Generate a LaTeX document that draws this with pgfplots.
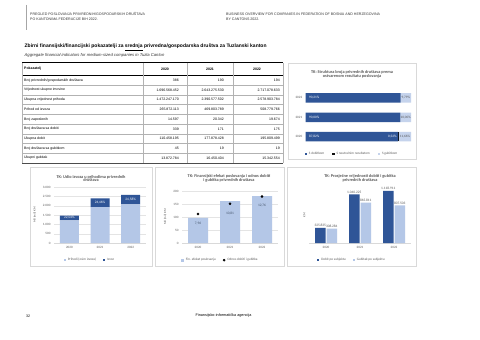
\documentclass[border=0pt]{standalone}
\usepackage{fontspec}
\setmainfont{Liberation Sans}
\newfontfamily\calfont{Carlito}
\usepackage{pgfplots}
\pgfplotsset{compat=1.18}
\definecolor{dkb}{HTML}{2F5597}
\definecolor{ltb}{HTML}{B4C7E7}
\definecolor{ltc}{HTML}{C5D3EC}
\definecolor{neu}{HTML}{101010}
\definecolor{txt}{HTML}{595959}
\definecolor{lbl}{HTML}{44546A}
\definecolor{brd}{HTML}{D9D9D9}
\definecolor{grd}{HTML}{E4E4E4}
\newcommand{\fs}[1]{\fontsize{#1}{#1}\selectfont}
\tikzset{
  dlw/.style={inner sep=0, font=\calfont\fs{3.4}, text=white},
  dlg/.style={inner sep=0, font=\calfont\fs{3.4}, text=txt},
  wl/.style={inner sep=0, font=\calfont\fs{3.5}, text=white},
  lab/.style={anchor=west, inner sep=0, font=\fs{3.5}},
  num/.style={anchor=east, inner sep=0, font=\fs{3.5}},
  hd/.style={inner sep=0, font=\bfseries\fs{3.5}},
  ctitle/.style={align=center, inner sep=0, font=\calfont\bfseries\fs{4.3}, text=txt},
}
\pgfplotsset{
  sq/.style={legend image code/.code={\fill[##1] (0bp,-1.1bp) rectangle (2.2bp,1.1bp);}},
  cbase/.style={
    scale only axis, anchor=south west,
    xmin=-0.5, xmax=2.5, xtick={0,1,2}, xticklabels={2020,2021,2022},
    axis x line*=bottom, axis y line*=left,
    y axis line style={draw=none}, x axis line style={draw=brd, line width=0.4bp},
    major tick length=0pt,
    ticklabel style={font=\calfont\fs{3.3}, text=txt},
    ylabel style={font=\calfont\fs{3.1}, text=txt},
    legend style={draw=none, fill=none, font=\calfont\fs{3.4}, text=txt, legend columns=-1, inner sep=0pt,
      /tikz/every even column/.append style={column sep=5bp}},
    legend cell align=left,
    clip=false,
  },
}
\begin{document}
\begin{tikzpicture}[x=1bp,y=1bp]
\useasboundingbox (0,0) rectangle (480,339);
\fill[white] (0,0) rectangle (480,339);
% header
\draw[gray!70, line width=0.4bp] (26,339-5) -- (26,339-30);
\node[anchor=west, inner sep=0, font=\fs{3.6}, text=black!80] at (30,339-14) {PREGLED POSLOVANJA PRIVREDNIH/GOSPODARSKIH DRUŠTAVA};
\node[anchor=west, inner sep=0, font=\fs{3.6}, text=black!80] at (30,339-19.5) {PO KANTONIMA FEDERACIJE BIH 2022.};
\node[anchor=west, inner sep=0, font=\fs{3.6}, text=black!80] at (226,339-14) {BUSINESS OVERVIEW FOR COMPANIES IN FEDERATION OF BOSNIA AND HERZEGOVINA};
\node[anchor=west, inner sep=0, font=\fs{3.6}, text=black!80] at (226,339-19.5) {BY CANTONS 2022.};
% title
\node[anchor=west, inner sep=0, font=\bfseries\fs{5.0}] at (24.5,339-47) {Zbirni finansijski/financijski pokazatelji za \underline{srednja} privredna/gospodarska društva za Tuzlanski kanton};
\node[anchor=west, inner sep=0, font=\itshape\fs{4.2}, text=black!80] at (24.5,339-55) {Aggregate financial indicators for medium-sized companies in Tuzla Canton};
% table
\draw[black, line width=0.9bp] (22,339-62.5) -- (283,339-62.5);
\draw[black, line width=0.5bp] (22,339-75.5) -- (283,339-75.5);
\foreach \yy in {85.2,94.9,104.6,114.3,124,133.7,143.4,153.1}
  \draw[gray!60, line width=0.3bp] (22,339-\yy) -- (283,339-\yy);
\draw[black!70, line width=0.4bp] (22,339-162.8) -- (283,339-162.8);
\foreach \xx in {22,143,187.5,233,283}
  \draw[gray!60, line width=0.3bp] (\xx,339-62.5) -- (\xx,339-162.8);
\node[lab, font=\bfseries\fs{3.5}] at (24,339-69) {Pokazatelj};
\node[hd] at (165,339-69) {2020};
\node[hd] at (210,339-69) {2021};
\node[hd] at (257,339-69) {2022};
\node[lab] at (24,339-80.35) {Broj privrednih/gospodarskih društava};
\node[lab] at (24,339-90.05) {Vrijednost ukupne imovine};
\node[lab] at (24,339-99.75) {Ukupna vrijednost prihoda};
\node[lab] at (24,339-109.45) {Prihod od izvoza};
\node[lab] at (24,339-119.15) {Broj zaposlenih};
\node[lab] at (24,339-128.85) {Broj društava sa dobiti};
\node[lab] at (24,339-138.55) {Ukupna dobit};
\node[lab] at (24,339-148.25) {Broj društava sa gubitkom};
\node[lab] at (24,339-157.95) {Ukupni gubitak};
% values
\node[num] at (179,339-80.35) {386};
\node[num] at (224,339-80.35) {190};
\node[num] at (280,339-80.35) {194};
\node[num] at (179,339-90.05) {1.696.568.452};
\node[num] at (224,339-90.05) {2.643.275.530};
\node[num] at (280,339-90.05) {2.717.078.633};
\node[num] at (179,339-99.75) {1.472.247.170};
\node[num] at (224,339-99.75) {2.390.577.502};
\node[num] at (280,339-99.75) {2.578.903.784};
\node[num] at (179,339-109.45) {265.872.113};
\node[num] at (224,339-109.45) {469.803.789};
\node[num] at (280,339-109.45) {508.779.766};
\node[num] at (179,339-119.15) {14.597};
\node[num] at (224,339-119.15) {20.342};
\node[num] at (280,339-119.15) {19.674};
\node[num] at (179,339-128.85) {339};
\node[num] at (224,339-128.85) {171};
\node[num] at (280,339-128.85) {175};
\node[num] at (179,339-138.55) {110.458.195};
\node[num] at (224,339-138.55) {177.878.428};
\node[num] at (280,339-138.55) {195.809.499};
\node[num] at (179,339-148.25) {45};
\node[num] at (224,339-148.25) {19};
\node[num] at (280,339-148.25) {19};
\node[num] at (179,339-157.95) {13.872.784};
\node[num] at (224,339-157.95) {16.450.404};
\node[num] at (280,339-157.95) {15.342.554};
% chart boxes
\draw[brd, line width=0.4bp] (288,339-63) rectangle (416,339-159);
\draw[brd, line width=0.4bp] (30,339-167) rectangle (152,339-266);
\draw[brd, line width=0.4bp] (155,339-167) rectangle (284,339-266);
\draw[brd, line width=0.4bp] (287,339-167) rectangle (416,339-266);
% chart titles
\node[ctitle] at (352,339-74.5) {TK: Struktura broja privrednih društava prema\\[-0.6bp]ostvarenom rezultatu poslovanja};
\node[ctitle] at (91,339-178.5) {TK: Udio izvoza u prihodima privrednih\\[-0.6bp]društava};
\node[ctitle] at (229,339-178.5) {TK: Finansijski efekat poslovanja i odnos dobiti\\[-0.6bp]i gubitka privrednih društava};
\node[ctitle] at (360,339-178.5) {TK: Prosječne vrijednosti dobiti i gubitka\\[-0.6bp]privrednih društava};
% top-right chart
\begin{axis}[scale only axis, anchor=south west, at={(305.7bp,190.7bp)}, width=105.3bp, height=62bp,
  xbar stacked, bar width=9.5bp, xmin=0, xmax=100, ymin=-0.6, ymax=2.6,
  ytick={0,1,2}, yticklabels={2020,2021,2022}, xtick=\empty,
  axis line style={draw=none}, major tick length=0pt,
  ticklabel style={font=\calfont\fs{3.3}, text=txt},
  legend style={draw=none, fill=none, font=\calfont\fs{3.4}, text=txt, legend columns=-1, inner sep=0pt,
      at={(0.44,-0.095)}, anchor=center, /tikz/every even column/.append style={column sep=6bp}},
  clip=false]
\addplot[fill=dkb, draw=none, sq] coordinates {(87.82,0) (90.00,1) (90.21,2)};
\addlegendentry{S dobitkom}
\addplot[fill=neu, draw=none, sq] coordinates {(0.52,0) (0,1) (0,2)};
\addlegendentry{S neutralnim rezultatom}
\addplot[fill=ltc, draw=none, sq] coordinates {(11.66,0) (10.00,1) (9.79,2)};
\addlegendentry{S gubitkom}
\coordinate (t22a) at (axis cs:3,2);
\coordinate (t21a) at (axis cs:3,1);
\coordinate (t20a) at (axis cs:3,0);
\coordinate (t20b) at (axis cs:86.5,0);
\coordinate (t22c) at (axis cs:95.1,2);
\coordinate (t21c) at (axis cs:95.0,1);
\coordinate (t20c) at (axis cs:94.2,0);
\end{axis}
\node[dlw, anchor=west] at (t22a) {90,21\%};
\node[dlw, anchor=west] at (t21a) {90,00\%};
\node[dlw, anchor=west] at (t20a) {87,82\%};
\node[dlw, anchor=east] at (t20b) {0,52\%};
\node[dlg] at (t22c) {9,79\%};
\node[dlg] at (t21c) {10,00\%};
\node[dlg] at (t20c) {11,66\%};
% chart 1
\begin{axis}[cbase, at={(54bp,96bp)}, width=92bp, height=56bp,
  ymin=0, ymax=3000, ytick={0,500,1000,1500,2000,2500,3000},
  yticklabels={0,500,1.000,1.500,2.000,2.500,3.000},
  ymajorgrids, grid style={grd, line width=0.3bp},
  ybar stacked, bar width=19bp,
  ylabel={Mil (mil) KM},
  legend style={at={(0.39,-0.30)}, anchor=center}]
\addplot[fill=ltb, draw=none, sq] coordinates {(0,1206.375) (1,1920.774) (2,2070.124)};
\addlegendentry{Prihodi (osim izvoza)}
\addplot[fill=dkb, draw=none, sq] coordinates {(0,265.872) (1,469.804) (2,508.780)};
\addlegendentry{Izvoz}
\coordinate (u0) at (axis cs:0,1339);
\coordinate (u1) at (axis cs:1,2155);
\coordinate (u2) at (axis cs:2,2324);
\end{axis}
\node[wl] at (u0) {22,04\%};
\node[wl] at (u1) {24,46\%};
\node[wl] at (u2) {24,58\%};
% chart 2
\begin{axis}[cbase, at={(182bp,96bp)}, width=96bp, height=52bp,
  ymin=0, ymax=200, ytick={0,50,100,150,200}, yticklabels={0,50,100,150,200},
  ymajorgrids, grid style={grd, line width=0.3bp},
  ybar, bar width=20bp, ylabel={Mil (mil) KM}]
\addplot[fill=ltb, draw=none] coordinates {(0,96.585) (1,161.428) (2,180.467)};
\end{axis}
\begin{axis}[scale only axis, anchor=south west, at={(182bp,96bp)}, width=96bp, height=52bp,
  xmin=-0.5, xmax=2.5, ymin=0, ymax=14.2857, hide axis, clip=false,
  legend style={draw=none, fill=none, font=\calfont\fs{3.4}, text=txt, legend columns=-1, inner sep=0pt,
      at={(0.4,-0.33)}, anchor=center, /tikz/every even column/.append style={column sep=5bp}},
  legend cell align=left]
\addlegendimage{legend image code/.code={\fill[ltb] (0bp,-1.1bp) rectangle (2.2bp,1.1bp);}}
\addlegendentry{Fin. efekat poslovanja}
\addplot[only marks, mark=*, mark size=1.1bp, black,
  legend image code/.code={\fill[black] (1.1bp,0bp) circle (1.1bp);},
  nodes near coords, point meta=explicit symbolic,
  nodes near coords style={anchor=north, yshift=-4.5bp, font=\calfont\fs{3.5}, text=lbl}]
  coordinates {(0,7.96) [{7,96}] (1,10.81) [{10,81}] (2,12.76) [{12,76}]};
\addlegendentry{Odnos dobiti i gubitka}
\end{axis}
% chart 3
\begin{axis}[cbase, at={(309bp,96bp)}, width=102bp, height=56bp,
  ymin=0, ymax=1200000, ytick=\empty,
  ybar=1bp, bar width=10.5bp, ylabel={KM},
  nodes near coords, point meta=explicit symbolic,
  nodes near coords style={font=\calfont\fs{3.5}, text=txt, inner sep=1bp},
  legend style={at={(0.42,-0.30)}, anchor=center}]
\addplot[fill=dkb, draw=none, sq] coordinates {(0,325835) [325.835] (1,1040225) [1.040.225] (2,1118911) [1.118.911]};
\addlegendentry{Dobit po subjektu}
\addplot[fill=ltb, draw=none, sq] coordinates {(0,308284) [308.284] (1,865811) [865.811] (2,807503) [807.503]};
\addlegendentry{Gubitak po subjektu}
\end{axis}
% footer
\node[anchor=west, inner sep=0, font=\fs{3.6}] at (26,339-316) {32};
\node[inner sep=0, font=\fs{3.8}] at (223.5,339-316) {Finansijsko-informatička agencija};
\end{tikzpicture}
\end{document}
